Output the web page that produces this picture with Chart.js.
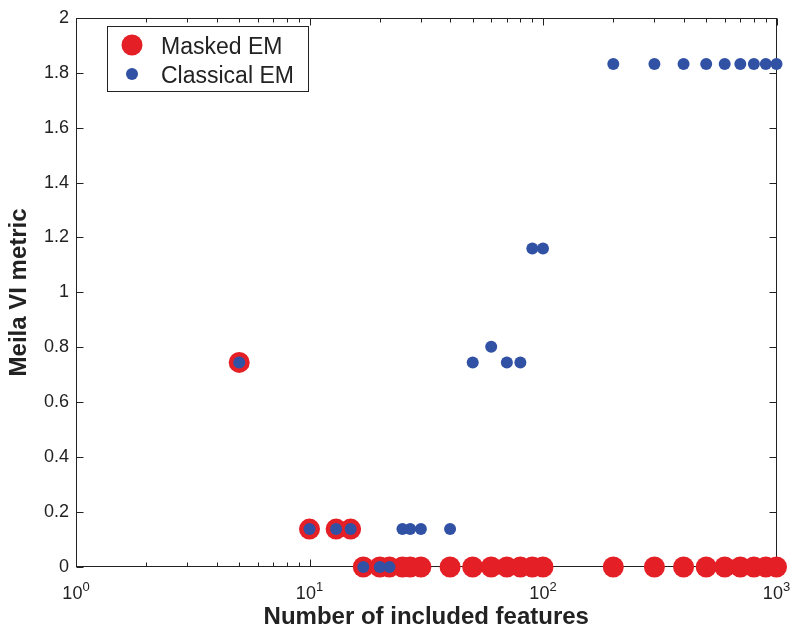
<!DOCTYPE html>
<html>
<head>
<meta charset="utf-8">
<script src="https://cdn.jsdelivr.net/npm/chart.js@4"></script>
<style>
  html, body { margin: 0; padding: 0; background: #fff; }
  #wrap { width: 800px; height: 637px; position: relative; }
</style>
</head>
<body>
<div id="wrap"><canvas id="viChart"></canvas></div>
<script>
/* ── Data ─────────────────────────────────────────────────────────────── */
const featureCounts = [5, 10, 13, 15, 17, 20, 22, 25, 27, 30, 40, 50, 60, 70, 80, 90, 100,
                       200, 300, 400, 500, 600, 700, 800, 900, 1000];
const maskedVI    = [0.745, 0.138, 0.138, 0.138, 0, 0, 0, 0, 0, 0, 0, 0, 0, 0, 0, 0, 0,
                     0, 0, 0, 0, 0, 0, 0, 0, 0];
const classicalVI = [0.745, 0.138, 0.138, 0.138, 0, 0, 0, 0.138, 0.138, 0.138, 0.138,
                     0.745, 0.802, 0.745, 0.745, 1.16, 1.16,
                     1.832, 1.832, 1.832, 1.832, 1.832, 1.832, 1.832, 1.832, 1.832];

const seriesNames = ['Masked EM', 'Classical EM'];
const xTickValues = [1, 10, 100, 1000];
const xTickExps   = ['0', '1', '2', '3'];
const xMinorMults = [2, 3, 4, 5, 6, 7, 8, 9];
const yTickValues = [0, 0.2, 0.4, 0.6, 0.8, 1, 1.2, 1.4, 1.6, 1.8, 2];

const RED  = '#e41f26';
const BLUE = '#3151a5';
const INK  = '#222';
const FONT = '"Liberation Sans", Arial, Helvetica, sans-serif';

Chart.defaults.font.family = FONT;
Chart.defaults.color = INK;

const toPoints = ys => featureCounts.map((x, i) => ({ x, y: ys[i] }));

/* ── Frame + inward ticks (MATLAB style) ──────────────────────────────── */
const framePlugin = {
  id: 'frame',
  beforeDatasetsDraw(chart) {
    const { ctx, chartArea: a, scales: { x, y } } = chart;
    const L = Math.round(a.left) + 0.5, R = Math.round(a.right) - 0.5;
    const T = Math.round(a.top) + 0.5,  B = Math.round(a.bottom) - 0.5;
    ctx.save();
    ctx.strokeStyle = INK;
    ctx.lineWidth = 1;
    ctx.strokeRect(L, T, R - L, B - T);

    ctx.beginPath();
    const vtick = (v, len) => {
      const px = Math.round(x.getPixelForValue(v)) + 0.5;
      ctx.moveTo(px, B); ctx.lineTo(px, B - len);
      ctx.moveTo(px, T); ctx.lineTo(px, T + len);
    };
    xTickValues.forEach(v => vtick(v, 7));
    xTickValues.slice(0, -1).forEach(d => xMinorMults.forEach(m => vtick(m * d, 4)));
    yTickValues.forEach(v => {
      const py = Math.round(y.getPixelForValue(v)) + 0.5;
      ctx.moveTo(L, py); ctx.lineTo(L + 7, py);
      ctx.moveTo(R, py); ctx.lineTo(R - 7, py);
    });
    ctx.stroke();
    ctx.restore();
  },
  afterDraw(chart) {
    const { ctx, scales: { x } } = chart;
    ctx.save();
    ctx.fillStyle = INK;
    ctx.textBaseline = 'alphabetic';
    ctx.textAlign = 'left';

    // x tick labels: 10^k with raised exponent
    xTickValues.forEach((v, i) => {
      const px = x.getPixelForValue(v);
      ctx.font = '18px ' + FONT;
      const wBase = ctx.measureText('10').width;
      ctx.font = '13px ' + FONT;
      const wExp = ctx.measureText(xTickExps[i]).width;
      const x0 = px - (wBase + wExp) / 2;
      ctx.font = '18px ' + FONT;
      ctx.fillText('10', x0, 599);
      ctx.font = '13px ' + FONT;
      ctx.fillText(xTickExps[i], x0 + wBase, 591);
    });

    // legend box
    const bx = 107.5, by = 26.5, bw = 201, bh = 65;
    ctx.fillStyle = '#fff';
    ctx.fillRect(bx, by, bw, bh);
    ctx.strokeStyle = INK;
    ctx.lineWidth = 1;
    ctx.strokeRect(bx, by, bw, bh);

    const rows = [
      { name: seriesNames[0], color: RED,  r: 10.5, cy: 45 },
      { name: seriesNames[1], color: BLUE, r: 6,    cy: 74 },
    ];
    ctx.font = '23px ' + FONT;
    rows.forEach(row => {
      ctx.fillStyle = row.color;
      ctx.beginPath();
      ctx.arc(132, row.cy, row.r, 0, Math.PI * 2);
      ctx.fill();
      ctx.fillStyle = INK;
      ctx.fillText(row.name, 161, row.cy + 8.5);
    });
    ctx.restore();
  }
};

new Chart(document.getElementById('viChart'), {
  type: 'scatter',
  data: {
    datasets: [
      {
        label: seriesNames[0],
        data: toPoints(maskedVI),
        backgroundColor: RED,
        borderWidth: 0,
        pointRadius: 10.5,
        pointHoverRadius: 10.5,
        clip: false,
        order: 2,
      },
      {
        label: seriesNames[1],
        data: toPoints(classicalVI),
        backgroundColor: BLUE,
        borderWidth: 0,
        pointRadius: 6,
        pointHoverRadius: 6,
        clip: false,
        order: 1,
      }
    ]
  },
  options: {
    responsive: true,
    maintainAspectRatio: false,
    animation: false,
    layout: { padding: { top: 16, right: 23.5, left: 0, bottom: 0 } },
    plugins: {
      legend: { display: false },
      tooltip: { enabled: false }
    },
    scales: {
      x: {
        type: 'logarithmic',
        min: 1, max: 1000,
        grid:   { display: false, drawTicks: false },
        border: { display: false },
        ticks:  { display: false },
        afterFit: s => { s.height = 70; },
        title: {
          display: true,
          text: 'Number of included features',
          color: INK,
          font: { size: 24, weight: 'bold' },
          padding: { top: 0, bottom: 5 }
        }
      },
      y: {
        min: 0, max: 2,
        grid:   { display: false, drawTicks: false },
        border: { display: false },
        afterBuildTicks: s => { s.ticks = yTickValues.map(v => ({ value: v })); },
        ticks: {
          padding: 7,
          color: INK,
          font: { size: 18 },
          callback: v => String(+v.toFixed(1))
        },
        afterFit: s => { s.width = 76; },
        title: {
          display: true,
          text: 'Meila VI metric',
          color: INK,
          font: { size: 24, weight: 'bold' },
          padding: { top: 5, bottom: 0 }
        }
      }
    }
  },
  plugins: [framePlugin]
});
</script>
</body>
</html>
